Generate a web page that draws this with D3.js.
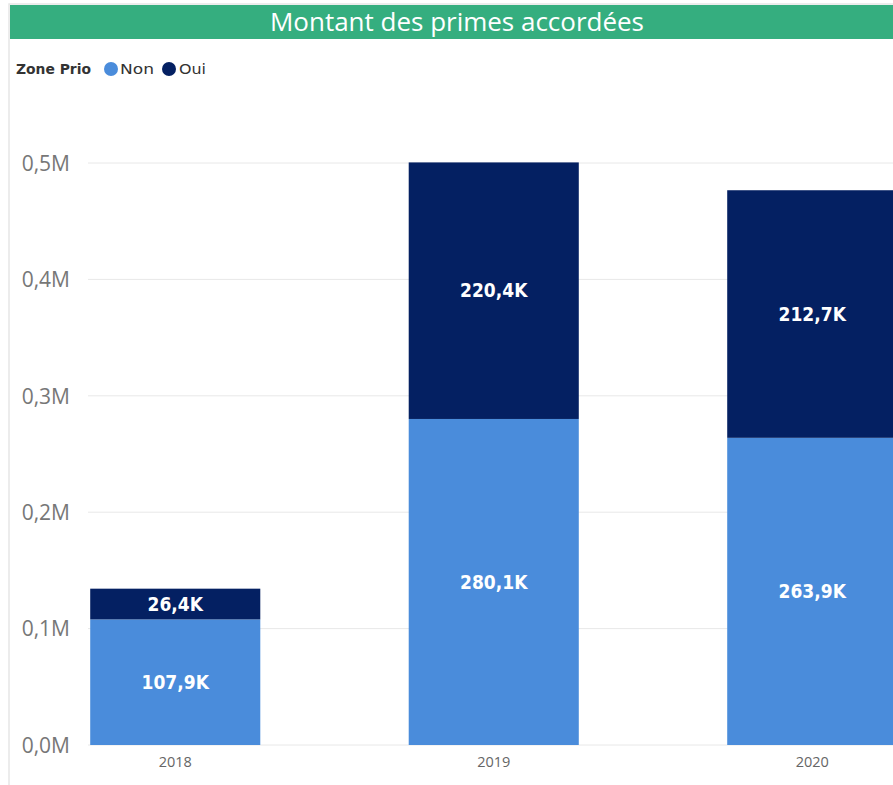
<!DOCTYPE html>
<html>
<head>
<meta charset="utf-8">
<script src="https://cdn.jsdelivr.net/npm/d3@7"></script>
<style>
html,body{margin:0;padding:0;background:#fff;}
svg{display:block;}
</style>
</head>
<body>
<svg id="chart" width="893" height="785"></svg>
<script>
const title = "Montant des primes accordées";
const legendTitle = "Zone Prio";
const categories = ["2018", "2019", "2020"];
const seriesNames = ["Non", "Oui"];
const nonValues = [107.9, 280.1, 263.9];   // en milliers
const ouiValues = [26.4, 220.4, 212.7];    // en milliers
const yTicks = [0, 100, 200, 300, 400, 500];
const yTickLabels = ["0,0M", "0,1M", "0,2M", "0,3M", "0,4M", "0,5M"];
const colors = ["#4a8cdb", "#042062"];

const svg = d3.select("#chart");
const W = 893, H = 785;

// frame
svg.append("rect").attr("x", 9).attr("y", 4).attr("width", W).attr("height", H)
  .attr("fill", "#fff").attr("stroke", "#e6e6e6").attr("stroke-width", 1.5);

// title bar
svg.append("rect").attr("x", 10).attr("y", 5).attr("width", W - 10).attr("height", 34)
  .attr("fill", "#35ae7f");
svg.append("text").attr("x", 457).attr("y", 31).attr("text-anchor", "middle")
  .attr("font-family", "'Open Sans', sans-serif").attr("font-size", 26)
  .attr("textLength", 374).attr("lengthAdjust", "spacingAndGlyphs")
  .attr("fill", "#fff").text(title);

// legend
const lg = svg.append("g").attr("font-family", "'DejaVu Sans Condensed', 'DejaVu Sans', sans-serif").attr("font-size", 14);
lg.append("text").attr("x", 16).attr("y", 74).attr("fill", "#333").attr("font-weight", "bold")
  .attr("textLength", 75).attr("lengthAdjust", "spacingAndGlyphs").text(legendTitle);
const legendPos = [[111, 120, 34], [169, 179, 27]];
seriesNames.forEach((s, i) => {
  lg.append("circle").attr("cx", legendPos[i][0]).attr("cy", 69).attr("r", 7).attr("fill", colors[i]);
  lg.append("text").attr("x", legendPos[i][1]).attr("y", 74).attr("fill", "#333")
    .attr("textLength", legendPos[i][2]).attr("lengthAdjust", "spacingAndGlyphs").text(s);
});

// scales
const y = d3.scaleLinear().domain([0, 500]).range([745, 163]);
const x = d3.scaleBand().domain(categories).range([16, 971.5])
  .paddingInner(0.466).paddingOuter(0.233);

// gridlines
svg.append("g").selectAll("line").data(yTicks).join("line")
  .attr("x1", 88).attr("x2", W).attr("y1", d => y(d)).attr("y2", d => y(d))
  .attr("stroke", "#e8e8e8").attr("stroke-width", 1);

// y axis
const yAxis = d3.axisLeft(y).tickValues(yTicks).tickSize(0)
  .tickFormat((d, i) => yTickLabels[i]);
const yg = svg.append("g").attr("transform", "translate(73,0)").call(yAxis);
yg.select(".domain").remove();
yg.selectAll("text").attr("font-family", "'Open Sans', sans-serif").attr("font-size", 21)
  .attr("fill", "#777").attr("dx", 0).attr("dy", "0.35em");

// x axis
const xAxis = d3.axisBottom(x).tickSize(0);
const xg = svg.append("g").attr("transform", "translate(0,745)").call(xAxis);
xg.select(".domain").remove();
xg.selectAll("text").attr("font-family", "'Open Sans', sans-serif").attr("font-size", 14.5)
  .attr("fill", "#666").attr("dy", "1.3em");

// stacked data
const rows = categories.map((c, i) => ({cat: c, Non: nonValues[i], Oui: ouiValues[i]}));
const stack = d3.stack().keys(seriesNames)(rows);

const fmt = v => d3.format(".1f")(v).replace(".", ",") + "K";

stack.forEach((layer, li) => {
  const g = svg.append("g");
  g.selectAll("rect").data(layer).join("rect")
    .attr("x", d => x(d.data.cat)).attr("width", x.bandwidth())
    .attr("y", d => y(d[1])).attr("height", d => y(d[0]) - y(d[1]))
    .attr("fill", colors[li]);
  g.selectAll("text").data(layer).join("text")
    .attr("x", d => x(d.data.cat) + x.bandwidth() / 2)
    .attr("y", d => (y(d[0]) + y(d[1])) / 2)
    .attr("dy", "0.35em").attr("text-anchor", "middle")
    .attr("font-family", "'DejaVu Sans Condensed', 'DejaVu Sans', sans-serif")
    .attr("font-weight", "bold").attr("font-size", 19).attr("fill", "#fff")
    .text(d => fmt(d.data[layer.key]));
});
</script>
</body>
</html>
